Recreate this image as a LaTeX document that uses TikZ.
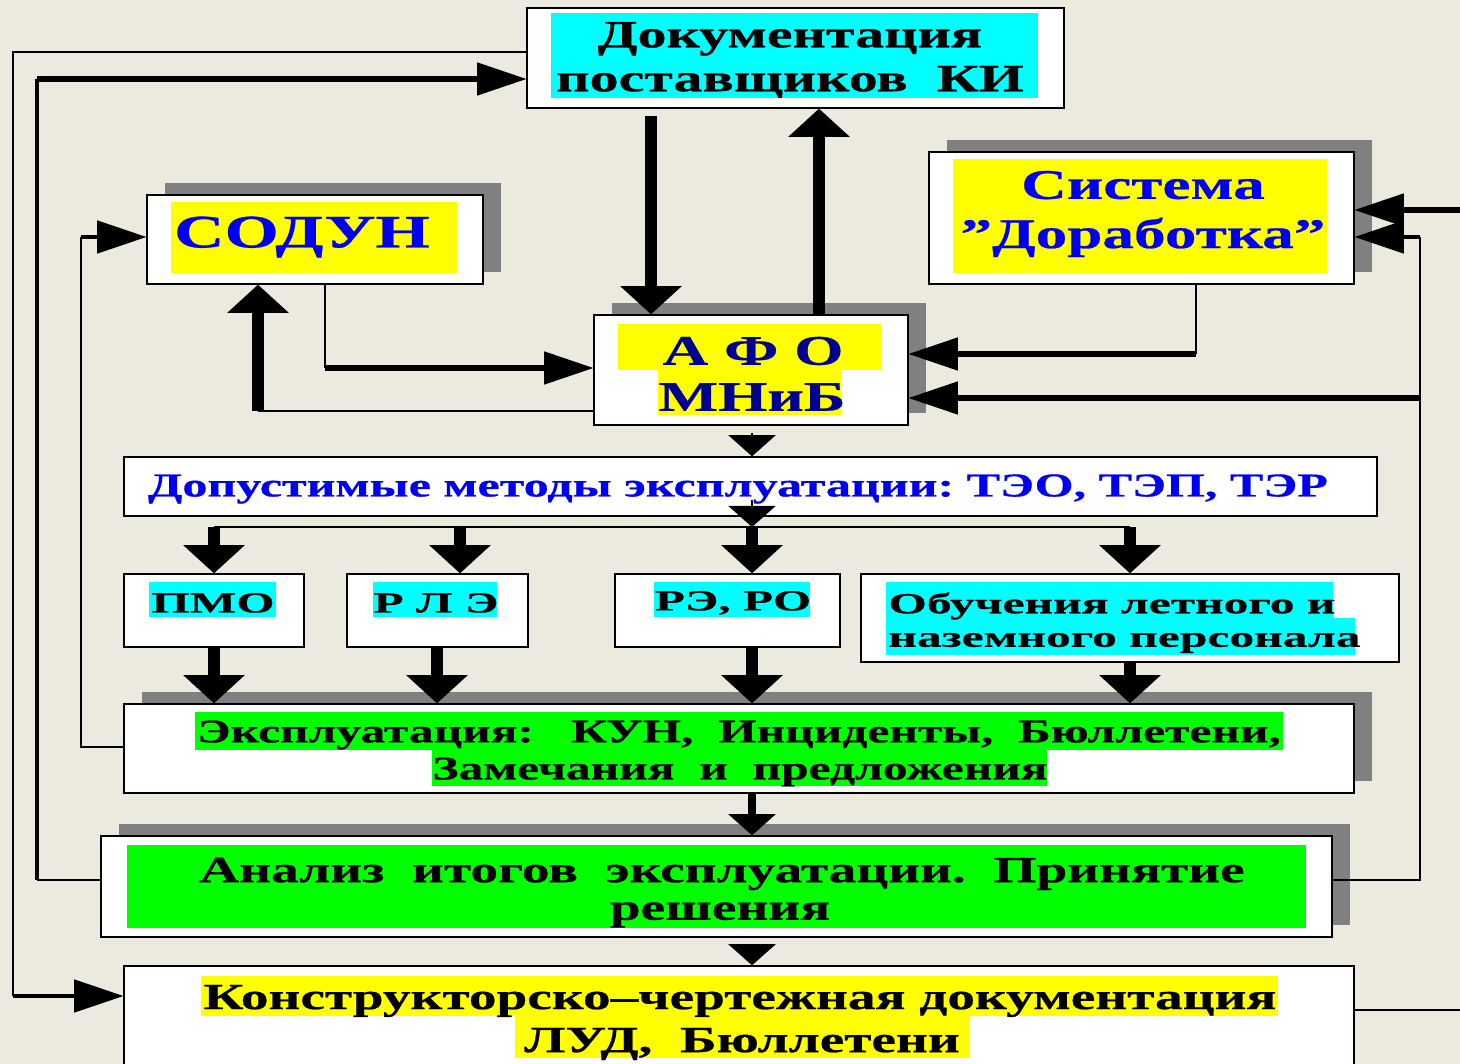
\documentclass[tikz,border=0pt]{standalone}
\usepackage{fontspec}
\setmainfont{Liberation Serif}
\newfontfamily\wide{Liberation Serif}[FakeStretch=1.5, FakeBold=0.6]
\newfontfamily\wider{Liberation Serif}[FakeStretch=1.7, FakeBold=0.6]
\usetikzlibrary{arrows.meta,fit,shadows}

\definecolor{slidebg}{HTML}{ECE9DF}
\definecolor{shade}{HTML}{808080}
\definecolor{hlcyan}{HTML}{00FFFF}
\definecolor{hlyellow}{HTML}{FFFF00}
\definecolor{hlgreen}{HTML}{00FF00}
\definecolor{txtblue}{HTML}{0000F0}
\definecolor{navy}{HTML}{000090}

\begin{document}
\begin{tikzpicture}[x=0.02cm,y=-0.02cm,
  box/.style={draw=black, line width=0.8pt, fill=white, inner sep=0pt},
  shadowed/.style={general shadow={fill=shade, shadow xshift=10.5pt, shadow yshift=7pt}},
  hl/.style={inner sep=0pt, fill=#1},
  txt/.style={inner sep=0pt, align=center},
  thinln/.style={line width=0.9pt},
  medln/.style={line width=2pt},
  hthick/.style={line width=3.2pt},
  vthick/.style={line width=7pt},
  harr/.style={-{Triangle[length=28pt,width=19pt,line width=0pt]}},
  varr/.style={-{Triangle[length=16pt,width=35pt,line width=0pt]}},
  smallarr/.style={-{Triangle[length=12pt,width=27pt,line width=0pt]}},
]
  % slide background
  \fill[slidebg] (0,0) rectangle (1460,1064);
  \useasboundingbox (0,0) rectangle (1460,1064);
  \clip (0,0) rectangle (1460,1064);

  % boxes
  \node[box, fit={(527,8) (1064,108)}] (doc) {};
  \node[box, shadowed, fit={(147,195) (483,284)}] (sodun) {};
  \node[box, shadowed, fit={(929,152) (1354,284)}] (dorab) {};
  \node[box, shadowed, fit={(594,315) (908,425)}] (afo) {};
  \node[box, fit={(124,457) (1377,516)}] (dopust) {};
  \node[box, fit={(124,574) (304,647)}] (pmo) {};
  \node[box, fit={(347,574) (528,647)}] (rle) {};
  \node[box, fit={(615,574) (840,647)}] (rero) {};
  \node[box, fit={(861,574) (1399,662)}] (obuch) {};
  \node[box, shadowed, fit={(124,704) (1354,793)}] (expl) {};
  \node[box, shadowed, fit={(101,836) (1332,937)}] (analiz) {};
  \node[box, fit={(124,966) (1354,1080)}] (kdoc) {};

  % highlights behind the texts
  \node[hl=hlcyan, fit={(551,13) (1038,98)}] (docHl) {};
  \node[hl=hlyellow, fit={(171,202) (457,273)}] (sodunHl) {};
  \node[hl=hlyellow, fit={(953,159) (1327,273)}] (dorabHl) {};
  \node[hl=hlyellow, fit={(618,324) (881,370)}] (afoHlA) {};
  \node[hl=hlyellow, fit={(658,370) (841,415)}] (afoHlB) {};
  \node[hl=hlcyan, fit={(149,582) (276,617)}] (pmoHl) {};
  \node[hl=hlcyan, fit={(373,582) (497,617)}] (rleHl) {};
  \node[hl=hlcyan, fit={(654,582) (810,617)}] (reroHl) {};
  \node[hl=hlcyan, fit={(886,582) (1333,618)}] (obuchHlA) {};
  \node[hl=hlcyan, fit={(886,618) (1355,655)}] (obuchHlB) {};
  \node[hl=hlgreen, fit={(195,712) (1283,750)}] (explHlA) {};
  \node[hl=hlgreen, fit={(432,750) (1047,786)}] (explHlB) {};
  \node[hl=hlgreen, fit={(127,845) (1306,928)}] (analizHl) {};
  \node[hl=hlyellow, fit={(201,976) (1278,1016)}] (kdocHlA) {};
  \node[hl=hlyellow, fit={(515,1016) (970,1058)}] (kdocHlB) {};

  % texts
  \node[txt, font=\wide\bfseries\fontsize{22}{25}\selectfont] (docTxt) at (790,60)
    {Документация\\поставщиков\ \ КИ};
  \node[txt, text=txtblue, font=\wide\bfseries\fontsize{26.5}{30}\selectfont] (sodunTxt) at (302,237) {СОДУН};
  \node[txt, text=txtblue, font=\wide\bfseries\fontsize{24}{28}\selectfont] (dorabTxt) at (1143,214)
    {Система\\”Доработка”};
  \node[txt, text=navy, font=\wide\bfseries\fontsize{24}{28}\selectfont] (afoTxtA) at (753,351) {А Ф О};
  \node[txt, text=navy, font=\wide\bfseries\fontsize{24}{28}\selectfont] (afoTxtB) at (752,397) {МНиБ};
  \node[txt, text=txtblue, font=\wide\bfseries\fontsize{19}{22}\selectfont] (dopustTxt) at (738,489)
    {Допустимые методы эксплуатации:\ ТЭО,\ ТЭП,\ ТЭР};
  \node[txt, font=\wider\bfseries\fontsize{16.5}{20}\selectfont] (pmoTxt) at (213,603) {ПМО};
  \node[txt, font=\wider\bfseries\fontsize{16.5}{20}\selectfont] (rleTxt) at (436,603) {Р Л Э};
  \node[txt, font=\wider\bfseries\fontsize{16.5}{20}\selectfont] (reroTxt) at (733,603) {РЭ, РО};
  \node[txt, anchor=west, font=\wider\bfseries\fontsize{16.6}{20}\selectfont] (obuchTxtA) at (888,606) {Обучения летного и};
  \node[txt, anchor=west, font=\wider\bfseries\fontsize{16.6}{20}\selectfont] (obuchTxtB) at (888,643) {наземного персонала};
  \node[txt, font=\wide\bfseries\fontsize{18.8}{21}\selectfont] (explTxtA) at (739,735)
    {Эксплуатация:\ \ \ КУН,\ \ Инциденты,\ \ Бюллетени,};
  \node[txt, font=\wide\bfseries\fontsize{18.8}{21}\selectfont] (explTxtB) at (740,772)
    {Замечания\ \ и\ \ предложения};
  \node[txt, font=\wide\bfseries\fontsize{21}{24}\selectfont] (analizTxtA) at (722,874)
    {Анализ\ \ итогов\ \ эксплуатации.\ \ Принятие};
  \node[txt, font=\wide\bfseries\fontsize{21}{24}\selectfont] (analizTxtB) at (720,915) {решения};
  \node[txt, font=\wide\bfseries\fontsize{21}{24}\selectfont] (kdocTxtA) at (740,1001)
    {Конструкторско–чертежная документация};
  \node[txt, font=\wide\bfseries\fontsize{21}{24}\selectfont] (kdocTxtB) at (742,1044)
    {ЛУД,\ \ Бюллетени};

  % feedback lines on the left
  \draw[thinln] (doc.west |- 0,52) -| (13,996);
  \draw[medln, harr] (13,996) -- (kdoc.west |- 0,996);
  \draw[thinln] (analiz.west |- 0,880) -- (37,880);
  \draw[medln] (37,880) -- (37,79);
  \draw[hthick, harr] (37,79) -- (doc.west |- 0,79);
  \draw[thinln] (expl.west |- 0,747) -| (81,237);
  \draw[medln, harr] (81,237) -- (sodun.west |- 0,237);

  % СОДУН <-> АФО
  \draw[thinln] (sodun.south -| 325,0) -- (325,368);
  \draw[hthick, harr] (325,368) -- (afo.west |- 0,368);
  \draw[thinln] (afo.west |- 0,411) -- (258,411);
  \draw[vthick, varr] (258,411) -- (sodun.south -| 258,0);

  % documentation <-> АФО
  \draw[vthick, varr, shorten <=4pt] (doc.south -| 651,0) -- (afo.north -| 651,0);
  \draw[vthick, varr] (afo.north -| 819,0) -- (doc.south -| 819,0);

  % Доработка and the right loop
  \draw[thinln] (dorab.south -| 1196,0) -- (1196,354);
  \draw[hthick, harr] (1196,354) -- (afo.east |- 0,354);
  \draw[thinln] (analiz.east |- 0,880) -| (1420,237);
  \draw[medln, harr] (1420,237) -- (dorab.east |- 0,237);
  \draw[hthick, harr] (1420,398) -- (afo.east |- 0,398);
  \draw[hthick, harr] (1470,210) -- (dorab.east |- 0,210);
  \draw[thinln] (kdoc.east |- 0,1010) -- (1470,1010);

  % main flow downwards
  \draw[thinln, smallarr, shorten <=4pt] (afo.south -| 752,0) -- (dopust.north -| 752,0);
  \coordinate (bus) at (752,527);
  \draw[thinln, smallarr] (752,500) -- (bus);
  \draw[thinln] (pmo.north |- bus) -- (obuch.north |- bus);
  \foreach \x/\b in {214/pmo, 460/rle, 752/rero, 1130/obuch}
    \draw[vthick, varr] (\x,527) -- (\b.north -| \x,0);
  \foreach \x/\b in {214/pmo, 437/rle, 752/rero, 1130/obuch}
    \draw[vthick, varr] (\b.south -| \x,0) -- (expl.north -| \x,0);
  \draw[line width=5pt, smallarr] (expl.south -| 752,0) -- (analiz.north -| 752,0);
  \draw[thinln, smallarr, shorten <=4pt] (analiz.south -| 752,0) -- (kdoc.north -| 752,0);
\end{tikzpicture}
\end{document}
